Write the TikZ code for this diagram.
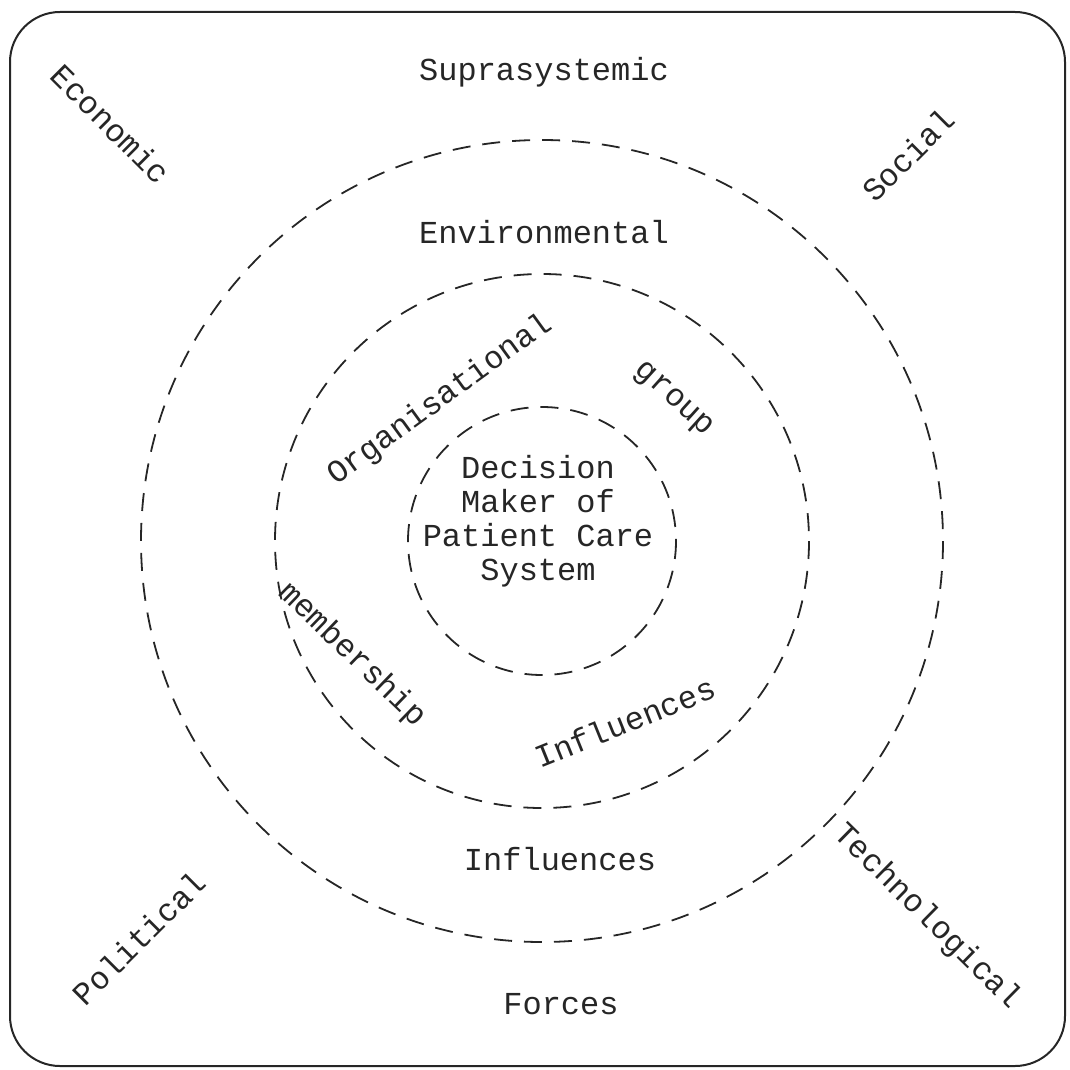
\documentclass[tikz,border=0pt]{standalone}
\usepackage{fontspec}
\newfontfamily\typewriter{Liberation Mono}
\begin{document}
\begin{tikzpicture}[x=1pt,y=-1pt,
  lbl/.style={font=\typewriter\fontsize{32}{33}\selectfont, text=black!85, inner sep=0pt},
  ring/.style={line width=1.8pt, black!85, dash pattern=on 18pt off 12pt},
  frame/.style={line width=2pt, black!85, rounded corners=50pt}]
\useasboundingbox (0,0) rectangle (1069,1070);
% outer frame
\draw[frame] (10,12) rectangle (1065,1066);
% concentric dashed rings
\coordinate (c) at (542,541);
\draw[ring] (c) circle[radius=401];
\draw[ring] (c) circle[radius=267];
\draw[ring] (c) circle[radius=134];
% centre
\node[lbl, align=center] (dm) at (538,521)
  {Decision\\[1pt]Maker of\\[1pt]Patient Care\\[1pt]System};
% inner ring labels
\node[lbl, rotate=36] (org) at (440,400) {Organisational};
\node[lbl, rotate=-42] (grp) at (673,400) {group};
\node[lbl, rotate=-44] (mem) at (352,655) {membership};
\node[lbl, rotate=22] (inf1) at (625,722) {Influences};
% middle ring labels
\node[lbl] (env) at (544,232) {Environmental};
\node[lbl] (inf2) at (560,859) {Influences};
% outer labels
\node[lbl] (sup) at (544,72) {Suprasystemic};
\node[lbl] (frc) at (561,1004) {Forces};
\node[lbl, rotate=-45] (eco) at (111,124) {Economic};
\node[lbl, rotate=45] (soc) at (908,155) {Social};
\node[lbl, rotate=45] (pol) at (139,938) {Political};
\node[lbl, rotate=-44.5] (tec) at (927,917) {Technological};
\end{tikzpicture}
\end{document}
